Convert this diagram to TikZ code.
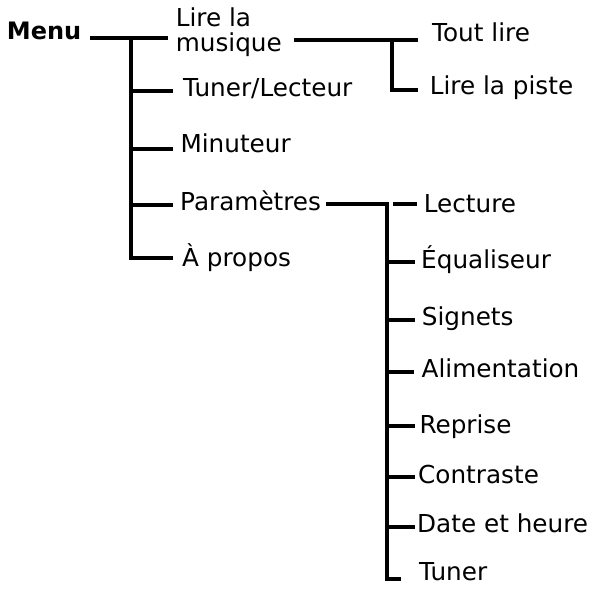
\documentclass[tikz,border=0pt]{standalone}
\usepackage{fontspec}
\setmainfont{DejaVu Sans}
\begin{document}
\begin{tikzpicture}[x=1bp,y=-1bp,
  lbl/.style={anchor=base west, inner sep=0pt, font=\fontsize{24.7bp}{25bp}\selectfont},
  rootlbl/.style={lbl, font=\fontsize{24bp}{25bp}\selectfont\bfseries},
  conn/.style={line width=4bp, black, line join=miter}]
\useasboundingbox (0,0) rectangle (595,590);
% texts
\node[rootlbl] (menu) at (6.7,40) {Menu};
\node[lbl, align=left] (lire) at (175.6,52) {Lire la\\musique};
\node[lbl] (tunerlect) at (183,97) {Tuner/Lecteur};
\node[lbl] (minuteur) at (180.3,153) {Minuteur};
\node[lbl] (param) at (180,210) {Paramètres};
\node[lbl] (apropos) at (182,266) {À propos};
\node[lbl] (toutlire) at (432,42) {Tout lire};
\node[lbl] (piste) at (429.6,95) {Lire la piste};
\node[lbl] (lecture) at (423.6,212) {Lecture};
\node[lbl] (equal) at (421,268) {Équaliseur};
\node[lbl] (signets) at (421.7,325) {Signets};
\node[lbl] (alim) at (421.5,377) {Alimentation};
\node[lbl] (reprise) at (419.3,433) {Reprise};
\node[lbl] (contraste) at (418,483) {Contraste};
\node[lbl] (date) at (417,532) {Date et heure};
\node[lbl] (tuner) at (419,580) {Tuner};
% junctions
\coordinate (mj) at (131,38);
\coordinate (mb) at (131,258);
\coordinate (b1) at (131,91);
\coordinate (b2) at (131,149);
\coordinate (b3) at (131,205);
\coordinate (lj) at (392,40);
\coordinate (lb) at (392,90);
\coordinate (pj) at (387,204);
\coordinate (pb) at (387,579);
\coordinate (c1) at (387,262);
\coordinate (c2) at (387,320);
\coordinate (c3) at (387,372);
\coordinate (c4) at (387,426);
\coordinate (c5) at (387,477);
\coordinate (c6) at (387,527);
% main menu
\draw[conn] ([xshift=9bp]menu.east |- mj) -- ([xshift=-8bp]lire.west |- mj);
\draw[conn] (mj) -- (mb) -- ([xshift=-9bp]apropos.west |- mb);
\draw[conn] (b1) -- ([xshift=-10bp]tunerlect.west |- b1);
\draw[conn] (b2) -- ([xshift=-7.3bp]minuteur.west |- b2);
\draw[conn] (b3) -- ([xshift=-7bp]param.west |- b3);
% Lire la musique
\draw[conn] ([xshift=12bp]lire.east |- lj) -- ([xshift=-14bp]toutlire.west |- lj);
\draw[conn] (lj) -- (lb) -- ([xshift=-11.6bp]piste.west |- lb);
% Parametres
\draw[conn] ([xshift=5bp]param.east |- pj) -- (pj) -- (pb) -- ([xshift=-18bp]tuner.west |- pb);
\draw[conn] ([xshift=6bp]pj) -- ([xshift=-6.6bp]lecture.west |- pj);
\draw[conn] (c1) -- ([xshift=-6bp]equal.west |- c1);
\draw[conn] (c2) -- ([xshift=-6.7bp]signets.west |- c2);
\draw[conn] (c3) -- ([xshift=-7.5bp]alim.west |- c3);
\draw[conn] (c4) -- ([xshift=-4.3bp]reprise.west |- c4);
\draw[conn] (c5) -- ([xshift=-3bp]contraste.west |- c5);
\draw[conn] (c6) -- ([xshift=-2bp]date.west |- c6);
\end{tikzpicture}
\end{document}
